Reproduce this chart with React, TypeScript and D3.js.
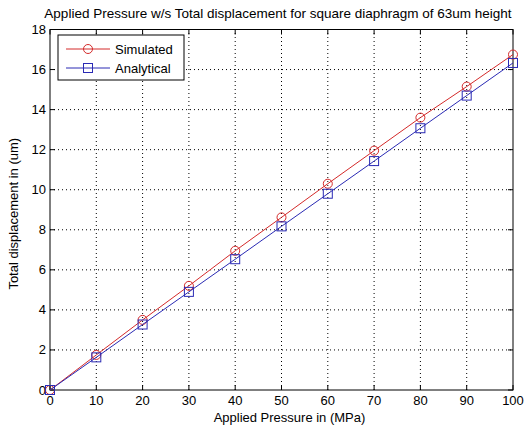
import React, {useEffect, useRef} from 'react';
import * as d3 from 'd3';

const width = 524;
const height = 432;
const margin = {top: 29.5, right: 11, bottom: 42, left: 50};

const pressure = [0, 10, 20, 30, 40, 50, 60, 70, 80, 90, 100];
const simulated = [0, 1.75, 3.5, 5.2, 6.95, 8.62, 10.3, 11.95, 13.6, 15.15, 16.75];
const analytical = [0, 1.63, 3.27, 4.9, 6.53, 8.17, 9.8, 11.43, 13.07, 14.7, 16.33];
const xTicks = [0, 10, 20, 30, 40, 50, 60, 70, 80, 90, 100];
const yTicks = [0, 2, 4, 6, 8, 10, 12, 14, 16, 18];

const RED = '#d42a2a';
const BLUE = '#2a2ab4';
const FONT = 'Liberation Sans, Arial, sans-serif';

const App = () => {
    const ref = useRef<SVGSVGElement>(null);

    useEffect(() => {
        const svg = d3.select(ref.current);
        svg.selectAll('*').remove();

        const x0 = margin.left, x1 = width - margin.right;
        const y0 = height - margin.bottom, y1 = margin.top;
        const x = d3.scaleLinear().domain([0, 100]).range([x0, x1]);
        const y = d3.scaleLinear().domain([0, 18]).range([y0, y1]);

        svg.append('rect').attr('width', width).attr('height', height).attr('fill', '#fff');

        // grid
        const grid = svg.append('g').attr('stroke', '#000').attr('stroke-width', 1).attr('stroke-dasharray', '1,3');
        xTicks.slice(1, -1).forEach(t => {
            grid.append('line').attr('x1', x(t)).attr('x2', x(t)).attr('y1', y0).attr('y2', y1);
        });
        yTicks.slice(1, -1).forEach(t => {
            grid.append('line').attr('x1', x0).attr('x2', x1).attr('y1', y(t)).attr('y2', y(t));
        });

        // ticks inward on all sides
        const ticks = svg.append('g').attr('stroke', '#000');
        xTicks.forEach(t => {
            ticks.append('line').attr('x1', x(t)).attr('x2', x(t)).attr('y1', y0).attr('y2', y0 - 5);
            ticks.append('line').attr('x1', x(t)).attr('x2', x(t)).attr('y1', y1).attr('y2', y1 + 5);
        });
        yTicks.forEach(t => {
            ticks.append('line').attr('x1', x0).attr('x2', x0 + 5).attr('y1', y(t)).attr('y2', y(t));
            ticks.append('line').attr('x1', x1).attr('x2', x1 - 5).attr('y1', y(t)).attr('y2', y(t));
        });

        svg.append('rect').attr('x', x0).attr('y', y1).attr('width', x1 - x0).attr('height', y0 - y1)
            .attr('fill', 'none').attr('stroke', '#000').attr('stroke-width', 1);

        const labels = svg.append('g').attr('font-family', FONT).attr('font-size', 13).attr('fill', '#000');
        xTicks.forEach(t => {
            labels.append('text').attr('x', x(t)).attr('y', y0 + 15).attr('text-anchor', 'middle').text(t);
        });
        yTicks.forEach(t => {
            labels.append('text').attr('x', x0 - 4).attr('y', y(t) + 4.5).attr('text-anchor', 'end').text(t);
        });

        labels.append('text').attr('x', (x0 + x1) / 2 + 8).attr('y', 422).attr('text-anchor', 'middle')
            .text('Applied Pressure in (MPa)');
        labels.append('text').attr('transform', `translate(18,${(y0 + y1) / 2 + 4}) rotate(-90)`)
            .attr('text-anchor', 'middle').text('Total displacement in (um)');
        labels.append('text').attr('x', 278).attr('y', 18).attr('text-anchor', 'middle')
            .attr('font-size', 13.5).text('Applied Pressure w/s Total displacement for square diaphragm of 63um height');

        const line = d3.line<number>().x((d, i) => x(pressure[i])).y(d => y(d));

        const series = [
            {vals: simulated, color: RED, marker: 'circle'},
            {vals: analytical, color: BLUE, marker: 'square'},
        ];
        series.forEach(s => {
            svg.append('path').attr('d', line(s.vals)).attr('fill', 'none').attr('stroke', s.color).attr('stroke-width', 1);
            s.vals.forEach((v, i) => {
                if (s.marker === 'circle') {
                    svg.append('circle').attr('cx', x(pressure[i])).attr('cy', y(v)).attr('r', 4.5)
                        .attr('fill', 'none').attr('stroke', s.color);
                } else {
                    svg.append('rect').attr('x', x(pressure[i]) - 4.5).attr('y', y(v) - 4.5)
                        .attr('width', 9).attr('height', 9).attr('fill', 'none').attr('stroke', s.color);
                }
            });
        });

        // legend
        const lg = svg.append('g');
        lg.append('rect').attr('x', 58).attr('y', 35).attr('width', 126).attr('height', 45)
            .attr('fill', '#fff').attr('stroke', '#000');
        const entries = [
            {label: 'Simulated', color: RED, marker: 'circle', yy: 49},
            {label: 'Analytical', color: BLUE, marker: 'square', yy: 68},
        ];
        entries.forEach(e => {
            lg.append('line').attr('x1', 66).attr('x2', 110).attr('y1', e.yy).attr('y2', e.yy).attr('stroke', e.color);
            if (e.marker === 'circle') {
                lg.append('circle').attr('cx', 88).attr('cy', e.yy).attr('r', 4.5).attr('fill', 'none').attr('stroke', e.color);
            } else {
                lg.append('rect').attr('x', 83.5).attr('y', e.yy - 4.5).attr('width', 9).attr('height', 9)
                    .attr('fill', 'none').attr('stroke', e.color);
            }
            lg.append('text').attr('x', 115).attr('y', e.yy + 4.5).attr('font-family', FONT).attr('font-size', 13)
                .text(e.label);
        });
    }, []);

    return (
        <svg ref={ref} width={width} height={height} style={{display: 'block', position: 'absolute', left: 0, top: 0}} />
    );
};

export default App;
